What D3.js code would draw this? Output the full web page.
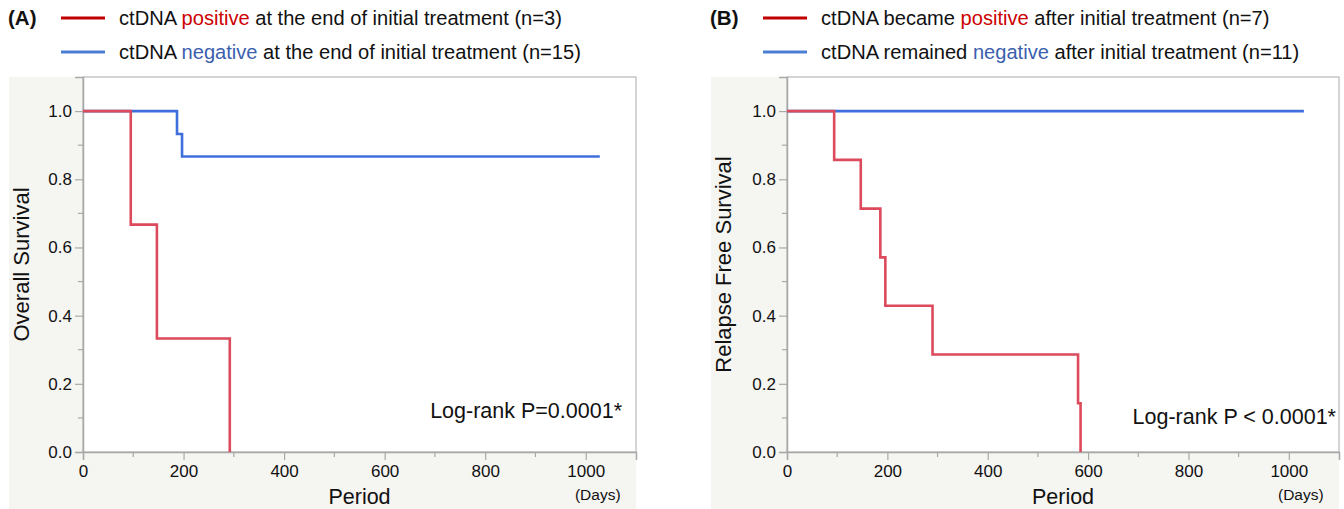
<!DOCTYPE html>
<html>
<head>
<meta charset="utf-8">
<script src="https://cdn.jsdelivr.net/npm/d3@7"></script>
<style>
  body { margin: 0; background: #fff; }
  svg text { font-family: "Liberation Sans", Arial, Helvetica, sans-serif; fill: #111; }
</style>
</head>
<body>
<svg id="chart" width="1344" height="509"></svg>
<script>
// Kaplan-Meier steps (days, survival after the event)
var timesA_pos = [0, 95, 147, 292];
var survA_pos  = [1, 0.667, 0.333, 0];
var timesA_neg = [0, 187, 197, 1028];
var survA_neg  = [1, 0.933, 0.867, 0.867];

var timesB_pos = [0, 94, 147, 186, 196, 290, 580, 585];
var survB_pos  = [1, 0.857, 0.714, 0.571, 0.429, 0.286, 0.143, 0];
var timesB_neg = [0, 1030];
var survB_neg  = [1, 1];

var xTicks = [0, 200, 400, 600, 800, 1000];
var yTicks = [0, 0.2, 0.4, 0.6, 0.8, 1.0];

var panels = [
  {
    tag: "(A)", left: 9, axisX: 83, right: 636,
    yTitle: "Overall Survival",
    logrank: "Log-rank P=0.0001*", logrankY: 418, logrankPad: 14,
    legend: [
      ["ctDNA ", "positive", " at the end of initial treatment (n=3)"],
      ["ctDNA ", "negative", " at the end of initial treatment (n=15)"]
    ],
    pos: {t: timesA_pos, s: survA_pos},
    neg: {t: timesA_neg, s: survA_neg}
  },
  {
    tag: "(B)", left: 711, axisX: 787, right: 1339,
    yTitle: "Relapse Free Survival",
    logrank: "Log-rank P < 0.0001*", logrankY: 424, logrankPad: 3,
    legend: [
      ["ctDNA became ", "positive", " after initial treatment (n=7)"],
      ["ctDNA remained ", "negative", " after initial treatment (n=11)"]
    ],
    pos: {t: timesB_pos, s: survB_pos},
    neg: {t: timesB_neg, s: survB_neg}
  }
];

var svg = d3.select("#chart");
var plotTop = 77, plotBottom = 452;

panels.forEach(function(p) {
  var g = svg.append("g");

  var x = d3.scaleLinear().domain([0, 1100]).range([p.axisX, p.right]);
  var y = d3.scaleLinear().domain([0, 1.1]).range([plotBottom, plotTop]);

  // gray frame background, white plot area
  g.append("rect").attr("x", p.left).attr("y", plotTop)
    .attr("width", p.right - p.left).attr("height", 509 - plotTop)
    .attr("fill", "#f5f5f2");
  g.append("rect").attr("x", p.axisX).attr("y", plotTop)
    .attr("width", p.right - p.axisX).attr("height", plotBottom - plotTop)
    .attr("fill", "#fff").attr("stroke", "#b8b8b8").attr("stroke-width", 1.2);

  // minor ticks
  g.selectAll(".ymin").data(d3.range(0.1, 1.1, 0.2)).enter().append("line")
    .attr("x1", p.axisX - 5).attr("x2", p.axisX)
    .attr("y1", function(d) { return y(d); }).attr("y2", function(d) { return y(d); })
    .attr("stroke", "#a8a8a8").attr("stroke-width", 1.2);
  g.selectAll(".xmin").data(d3.range(100, 1100, 200)).enter().append("line")
    .attr("x1", function(d) { return x(d); }).attr("x2", function(d) { return x(d); })
    .attr("y1", plotBottom).attr("y2", plotBottom + 5)
    .attr("stroke", "#a8a8a8").attr("stroke-width", 1.2);

  // axes
  var yAxis = g.append("g").attr("transform", "translate(" + p.axisX + ",0)")
    .call(d3.axisLeft(y).tickValues(yTicks).tickFormat(d3.format(".1f")).tickSize(8).tickPadding(3));
  var xAxis = g.append("g").attr("transform", "translate(0," + plotBottom + ")")
    .call(d3.axisBottom(x).tickValues(xTicks).tickFormat(d3.format("d")).tickSize(8).tickPadding(5));
  [yAxis, xAxis].forEach(function(a) {
    a.select(".domain").attr("stroke", "#a8a8a8").attr("stroke-width", 1.5);
    a.selectAll(".tick line").attr("stroke", "#a8a8a8").attr("stroke-width", 1.2);
    a.selectAll(".tick text").attr("font-size", 17).attr("fill", "#111")
      .style("font-family", "'Liberation Sans', Arial, sans-serif");
  });

  // KM curves
  var line = d3.line()
    .x(function(d) { return x(d[0]); })
    .y(function(d) { return y(d[1]); })
    .curve(d3.curveStepAfter);
  [[p.neg, "#3f6fdc"], [p.pos, "#dc4a5c"]].forEach(function(c) {
    var pts = d3.zip(c[0].t, c[0].s);
    g.append("path").datum(pts).attr("d", line)
      .attr("fill", "none").attr("stroke", c[1]).attr("stroke-width", 2.6);
  });

  // texts
  g.append("text").attr("x", p.right - p.logrankPad).attr("y", p.logrankY)
    .attr("text-anchor", "end").attr("font-size", 21.5).text(p.logrank);

  var midY = (plotTop + plotBottom) / 2;
  g.append("text")
    .attr("transform", "translate(" + (p.left + 20) + "," + midY + ") rotate(-90)")
    .attr("text-anchor", "middle").attr("font-size", 22).text(p.yTitle);

  g.append("text").attr("x", x(550)).attr("y", 504)
    .attr("text-anchor", "middle").attr("font-size", 21.5).text("Period");
  g.append("text").attr("x", x(1000) + 12).attr("y", 500)
    .attr("text-anchor", "middle").attr("font-size", 15.5).text("(Days)");

  // legend
  var lx = p.left - 1;
  g.append("text").attr("x", lx).attr("y", 25).attr("font-size", 20.5)
    .attr("font-weight", "bold").text(p.tag);
  var legColors = [["#c00000", "#cc0000"], ["#4a7fd4", "#3b5fae"]];
  p.legend.forEach(function(parts, i) {
    var ly = 18 + i * 34;
    g.append("line").attr("x1", lx + 53).attr("x2", lx + 97)
      .attr("y1", ly).attr("y2", ly)
      .attr("stroke", legColors[i][0]).attr("stroke-width", 3);
    var t = g.append("text").attr("x", lx + 111).attr("y", ly + 7).attr("font-size", 20.1);
    t.append("tspan").text(parts[0]);
    t.append("tspan").style("fill", legColors[i][1]).text(parts[1]);
    t.append("tspan").text(parts[2]);
  });
});
</script>
</body>
</html>
